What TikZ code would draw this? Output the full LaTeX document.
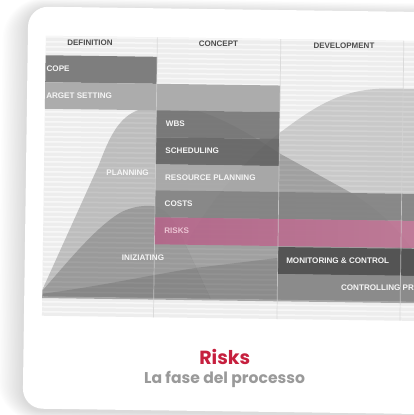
\documentclass[tikz,border=0pt]{standalone}
\usepackage{fontspec}
\setmainfont{Liberation Sans}
\newfontfamily\popfont{Poppins}
\definecolor{bgstripe}{HTML}{EDEDED}
\definecolor{hdrtext}{HTML}{4E4E4E}
\definecolor{scopec}{HTML}{7E7E7E}
\definecolor{targetc}{HTML}{ACACAC}
\definecolor{wbsc}{HTML}{707070}
\definecolor{schedc}{HTML}{636363}
\definecolor{resc}{HTML}{A8A8A8}
\definecolor{costc}{HTML}{848484}
\definecolor{riskl}{HTML}{B3678A}
\definecolor{riskr}{HTML}{C47E9B}
\definecolor{riskt}{HTML}{EBC3D3}
\definecolor{monc}{HTML}{545454}
\definecolor{ctrlc}{HTML}{8B8B8B}
\definecolor{titlec}{HTML}{C61F3E}
\definecolor{subc}{HTML}{9A9A9A}
\definecolor{divc}{HTML}{D4D4D4}
\begin{document}
\begin{tikzpicture}[x=1pt,y=-1pt,
  barlabel/.style={anchor=west, inner sep=0pt, text=white!96!black, font=\fontsize{8.1}{9}\selectfont\bfseries},
  hdrlabel/.style={anchor=center, inner sep=0pt, text=hdrtext, font=\fontsize{8}{9}\selectfont\bfseries},
  phase/.style={fill=black, draw=none},
  divline/.style={draw=divc, line width=0.7pt, opacity=0.75}]
\useasboundingbox (0,0) rectangle (413,415);
\fill[white] (0,0) rectangle (413,415);
\begin{scope}[rotate around={-0.8:(206,207)}]
  % soft shadow
  \foreach \i [evaluate=\i as \r using 20+1.2*\i] in {1,...,18}
    \fill[black, opacity=0.0075, rounded corners=\r pt]
      (25.5-1.4*\i, 11-0.6*\i) rectangle (520, 413+0.6*\i);
  % card
  \fill[white, rounded corners=20pt] (25.5,9) rectangle (520,411);
  % chart image
  \begin{scope}
    \clip (43.5,38) rectangle (520,318);
    \fill[bgstripe] (43.5,38) rectangle (520,318);
    \foreach \y in {39,44,...,318}
      \draw[white, line width=1.5pt, opacity=0.6] (43.5,\y) -- (520,\y);
    % phase curves
    \fill[phase, opacity=0.20] (43.5,299) -- (43.5,292) -- (98,167)
      .. controls (108,140) and (118,113) .. (145,109)
      .. controls (155,107) and (162,107) .. (170,107)
      .. controls (205,108) and (240,128) .. (280,153)
      -- (355,193) .. controls (390,215) and (420,245) .. (440,299) -- cycle;
    \fill[phase, opacity=0.15] (212,299) -- (186,245)
      .. controls (205,210) and (240,160) .. (285,127)
      .. controls (320,100) and (345,87) .. (385,86)
      -- (520,86) -- (520,299) -- cycle;
    \fill[phase, opacity=0.18] (43.5,299) -- (43.5,293)
      .. controls (70,262) and (95,230) .. (120,214)
      .. controls (133,207) and (145,206) .. (155,207)
      .. controls (168,210) and (178,225) .. (186,245)
      -- (212,299) -- cycle;
    \fill[phase, opacity=0.12] (43.5,299) -- (43.5,296)
      .. controls (100,288) and (150,276) .. (197,268)
      -- (278,257) -- (520,232) -- (520,299) -- cycle;
    % bars
    \fill[scopec] (30,57.5) rectangle (155,84.5);
    \fill[targetc] (30,84.5) rectangle (278.5,111);
    \fill[wbsc, opacity=0.88] (155,111) rectangle (278.5,138);
    \fill[schedc, opacity=0.9] (155,138) rectangle (278.5,165);
    \fill[resc, opacity=0.92] (155,165) rectangle (278.5,191);
    \fill[costc, opacity=0.93] (155,191) rectangle (520,218);
    \shade[left color=riskl, right color=riskr, opacity=0.95] (155,218) rectangle (520,245);
    \fill[monc] (278.5,246) rectangle (520,273);
    \fill[ctrlc] (278.5,273) rectangle (520,299);
    % bottom line
    \draw[black!35, line width=1.6pt] (43.5,299.5) -- (520,299.5);
    % dividers
    \draw[divline] (155,38) -- (155,318);
    \draw[divline] (278.5,38) -- (278.5,318);
    \draw[divline] (401.5,38) -- (401.5,318);
    % labels
    \node[hdrlabel] (hdef) at (87.7,44) {DEFINITION};
    \node[hdrlabel] (hcon) at (216.2,44) {CONCEPT};
    \node[hdrlabel] (hdev) at (341.7,44) {DEVELOPMENT};
    \node[barlabel] (lscope) at (44.5,71) {COPE};
    \node[barlabel] (ltarget) at (44.5,97.5) {ARGET SETTING};
    \node[barlabel] (lwbs) at (164.5,124.5) {WBS};
    \node[barlabel] (lsched) at (164.5,151.5) {SCHEDULING};
    \node[barlabel] (lres) at (164.5,178) {RESOURCE PLANNING};
    \node[barlabel] (lcost) at (164.5,204.5) {COSTS};
    \node[barlabel, text=riskt] (lrisk) at (164.5,231.5) {RISKS};
    \node[barlabel, anchor=east] (lplan) at (148.5,173.5) {PLANNING};
    \node[barlabel] (linit) at (122.5,259) {INIZIATING};
    \node[barlabel] (lmon) at (286.8,260) {MONITORING \& CONTROL};
    \node[barlabel] (lctrl) at (342,285.5) {CONTROLLING PR};
  \end{scope}
  % caption
  \node[anchor=base, inner sep=0pt, text=titlec, font=\popfont\fontsize{19}{22}\selectfont\bfseries] (title) at (227,364.5) {Risks};
  \node[anchor=base, inner sep=0pt, text=subc, font=\popfont\fontsize{15.6}{18}\selectfont\bfseries] (sub) at (227,383.5) {La fase del processo};
\end{scope}
\end{tikzpicture}
\end{document}
